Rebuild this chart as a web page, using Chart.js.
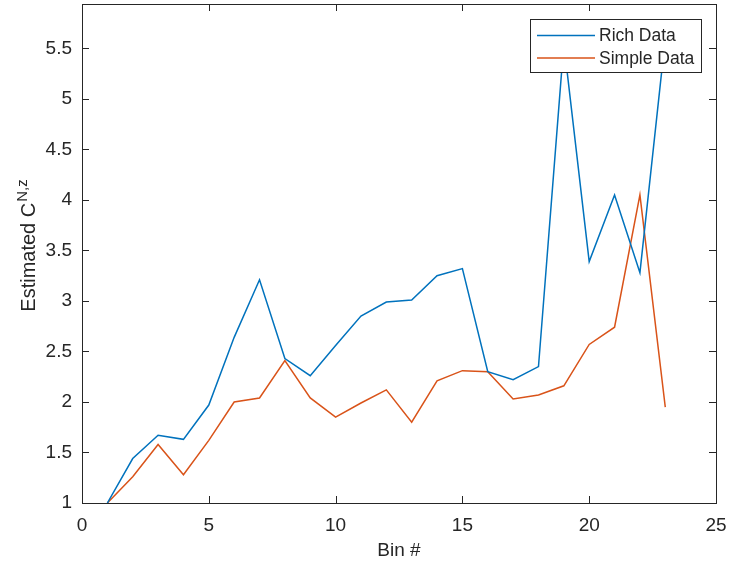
<!DOCTYPE html>
<html>
<head>
<meta charset="utf-8">
<script src="https://cdn.jsdelivr.net/npm/chart.js@4/dist/chart.umd.min.js"></script>
<style>
  html, body { margin: 0; padding: 0; background: #fff; }
  #wrap { width: 729px; height: 568px; }
</style>
</head>
<body>
<div id="wrap"><canvas id="binChart" width="729" height="568"></canvas></div>
<script>
const bins = [1, 2, 3, 4, 5, 6, 7, 8, 9, 10, 11, 12, 13, 14, 15, 16, 17, 18, 19, 20, 21, 22, 23];
const richData = [1.0, 1.44, 1.67, 1.63, 1.97, 2.64, 3.21, 2.43, 2.26, 2.56, 2.85, 2.99, 3.01, 3.25, 3.32, 2.30, 2.22, 2.35, 5.55, 3.39, 4.05, 3.28, 5.6];
const simpleData = [1.0, 1.26, 1.58, 1.28, 1.62, 2.00, 2.04, 2.41, 2.04, 1.85, 1.99, 2.12, 1.80, 2.21, 2.31, 2.30, 2.03, 2.07, 2.16, 2.57, 2.74, 4.05, 1.95];
const xTicks = [0, 5, 10, 15, 20, 25];
const yTicks = [1, 1.5, 2, 2.5, 3, 3.5, 4, 4.5, 5, 5.5];

const axisColor = '#262626';
const fontFamily = '"Liberation Sans", Arial, sans-serif';

const toPoints = (ys) => bins.map((b, i) => ({ x: b, y: ys[i] }));

// ticks inside the box on all four sides, plus the frame, plus the legend
const boxPlugin = {
  id: 'box',
  afterDraw(chart) {
    const { ctx, chartArea: a, scales } = chart;
    const len = 7;
    ctx.save();
    ctx.strokeStyle = axisColor;
    ctx.lineWidth = 1;
    ctx.beginPath();
    xTicks.forEach(v => {
      const px = Math.round(scales.x.getPixelForValue(v)) + 0.5;
      ctx.moveTo(px, a.bottom); ctx.lineTo(px, a.bottom - len);
      ctx.moveTo(px, a.top); ctx.lineTo(px, a.top + len);
    });
    yTicks.forEach(v => {
      const py = Math.round(scales.y.getPixelForValue(v)) + 0.5;
      ctx.moveTo(a.left, py); ctx.lineTo(a.left + len, py);
      ctx.moveTo(a.right, py); ctx.lineTo(a.right - len, py);
    });
    ctx.stroke();
    ctx.strokeRect(Math.round(a.left) + 0.5, Math.round(a.top) + 0.5,
      Math.round(a.right - a.left), Math.round(a.bottom - a.top));

    // legend
    const lx = 530, ly = 19, lw = 171, lh = 53;
    ctx.fillStyle = '#fff';
    ctx.fillRect(lx, ly, lw, lh);
    ctx.strokeRect(lx + 0.5, ly + 0.5, lw, lh);
    ctx.font = '17.5px ' + fontFamily;
    ctx.textBaseline = 'middle';
    chart.data.datasets.forEach((ds, i) => {
      const ry = ly + 16.5 + i * 22.5;
      ctx.strokeStyle = ds.borderColor;
      ctx.lineWidth = 1.5;
      ctx.beginPath();
      ctx.moveTo(537, ry); ctx.lineTo(595, ry);
      ctx.stroke();
      ctx.fillStyle = axisColor;
      ctx.fillText(ds.label, 599, ry + 1);
    });

    // y title with superscript
    const mid = (a.top + a.bottom) / 2 - 8;
    ctx.translate(35, mid);
    ctx.rotate(-Math.PI / 2);
    ctx.textBaseline = 'alphabetic';
    ctx.fillStyle = axisColor;
    ctx.font = '20px ' + fontFamily;
    const main = 'Estimated C';
    const mw = ctx.measureText(main).width;
    ctx.font = '15px ' + fontFamily;
    const sup = 'N,z';
    const sw = ctx.measureText(sup).width;
    const start = -(mw + sw + 1) / 2;
    ctx.font = '20px ' + fontFamily;
    ctx.fillText(main, start, 0);
    ctx.font = '15px ' + fontFamily;
    ctx.fillText(sup, start + mw + 1, -8);
    ctx.restore();
  }
};

const chart = new Chart(document.getElementById('binChart').getContext('2d'), {
  type: 'line',
  data: {
    datasets: [
      { label: 'Rich Data', data: toPoints(richData), borderColor: '#0072BD', borderWidth: 1.5, pointRadius: 0, fill: false, tension: 0 },
      { label: 'Simple Data', data: toPoints(simpleData), borderColor: '#D95319', borderWidth: 1.5, pointRadius: 0, fill: false, tension: 0 }
    ]
  },
  options: {
    responsive: false,
    animation: false,
    layout: { padding: { top: 4, right: 13, left: 0, bottom: 0 } },
    plugins: { legend: { display: false }, tooltip: { enabled: false } },
    scales: {
      x: {
        type: 'linear',
        min: 0,
        max: 25,
        afterBuildTicks: (s) => { s.ticks = xTicks.map(v => ({ value: v })); },
        afterFit: (s) => { s.height = 65; s.paddingLeft = 0; s.paddingRight = 0; },
        grid: { display: false, drawTicks: false },
        border: { display: false },
        ticks: { color: axisColor, font: { family: fontFamily, size: 19 }, padding: 11, maxRotation: 0 },
        title: { display: true, text: 'Bin #', color: axisColor, font: { family: fontFamily, size: 19 }, padding: { top: 0, bottom: 6 } }
      },
      y: {
        type: 'linear',
        min: 1,
        max: 5.94,
        afterBuildTicks: (s) => { s.ticks = yTicks.map(v => ({ value: v })); },
        afterFit: (s) => { s.width = 82; s.paddingTop = 0; s.paddingBottom = 0; },
        grid: { display: false, drawTicks: false },
        border: { display: false },
        ticks: { color: axisColor, font: { family: fontFamily, size: 19 }, padding: 10, callback: (v) => String(v) }
      }
    }
  },
  plugins: [boxPlugin]
});
</script>
</body>
</html>
